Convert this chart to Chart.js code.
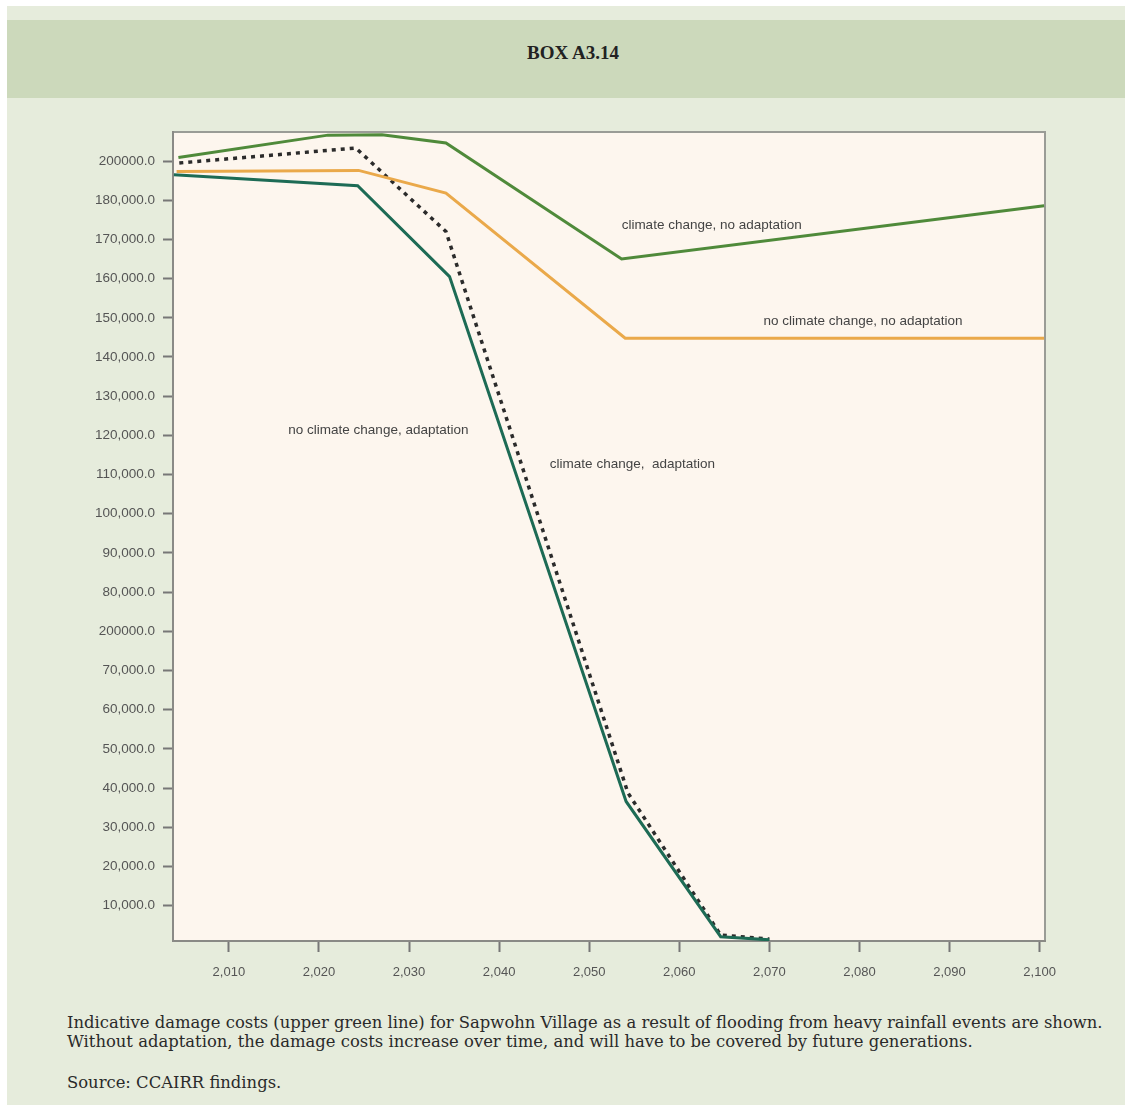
<!DOCTYPE html>
<html>
<head>
<meta charset="utf-8">
<script src="https://cdn.jsdelivr.net/npm/chart.js@4.4.0/dist/chart.umd.min.js"></script>
<style>
    html, body { margin: 0; padding: 0; background: #ffffff; }
    #page { position: relative; width: 1125px; height: 1107px; overflow: hidden; }
    #panel { position: absolute; left: 7px; top: 6px; width: 1118px; height: 1099px; background: #e6ecdc; }
    #header { position: absolute; left: 7px; top: 20px; width: 1118px; height: 78px; background: #ccd9bb; }
    #title { position: absolute; left: 14px; top: 42px; width: 1118px; text-align: center;
             font: bold 19px "Liberation Serif", serif; color: #222; }
    #statsChart { position: absolute; left: 0; top: 0; }
    .caption { position: absolute; left: 67px; font: 16.4px "DejaVu Serif", serif;
               line-height: 19px; color: #2a2a2a; white-space: nowrap; }
</style>
</head>
<body>
<div id="page">
    <div id="panel"></div>
    <div id="header"></div>
    <div id="title">BOX A3.14</div>
    <canvas id="statsChart" width="1125" height="1000"></canvas>
    <div class="caption" style="top:1013px">Indicative damage costs (upper green line) for Sapwohn Village as a result of flooding from heavy rainfall events are shown.</div>
    <div class="caption" style="top:1032px">Without adaptation, the damage costs increase over time, and will have to be covered by future generations.</div>
    <div class="caption" style="top:1073px">Source: CCAIRR findings.</div>
</div>
<script>
// values (y in axis units: each tick step = 10,000)
const greenYears = [2004.4, 2021.0, 2027.0, 2034.1, 2053.6, 2100.5];
const greenValues = [200900, 206600, 206700, 204600, 175000, 188600];

const orangeYears = [2004.2, 2024.4, 2034.1, 2054.0, 2100.5];
const orangeValues = [197300, 197600, 191800, 154800, 154800];

const tealYears = [2003.9, 2024.3, 2034.5, 2054.1, 2064.6, 2070.0];
const tealValues = [196500, 193700, 170500, 36600, 2100, 1300];

const dottedYears = [2004.5, 2024.1, 2034.1, 2054.3, 2064.6, 2070.0];
const dottedValues = [199500, 203300, 182000, 38800, 2500, 1500];

const xTickValues = [2010, 2020, 2030, 2040, 2050, 2060, 2070, 2080, 2090, 2100];
const xTickLabels = ['2,010', '2,020', '2,030', '2,040', '2,050', '2,060', '2,070', '2,080', '2,090', '2,100'];

const yTickValues = [10000, 20000, 30000, 40000, 50000, 60000, 70000, 80000, 90000, 100000,
    110000, 120000, 130000, 140000, 150000, 160000, 170000, 180000, 190000, 200000];
const yTickLabels = ['10,000.0', '20,000.0', '30,000.0', '40,000.0', '50,000.0', '60,000.0', '70,000.0',
    '200000.0', '80,000.0', '90,000.0', '100,000.0', '110,000.0', '120,000.0', '130,000.0',
    '140,000.0', '150,000.0', '160,000.0', '170,000.0', '180,000.0', '200000.0'];

const labelTexts = ['climate change, no adaptation', 'no climate change, no adaptation',
    'no climate change, adaptation', 'climate change,  adaptation'];
const labelYears = [2063.6, 2080.4, 2026.6, 2054.8];
const labelValues = [183500, 159200, 131400, 122500];

function points(xs, ys) {
    return xs.map((x, i) => ({ x: x, y: ys[i] }));
}

const plotDecor = {
    id: 'plotDecor',
    beforeDraw(chart) {
        const { ctx, chartArea: a } = chart;
        ctx.save();
        ctx.fillStyle = '#fdf6ee';
        ctx.fillRect(a.left, a.top, a.width, a.height);
        ctx.strokeStyle = '#9a9c96';
        ctx.lineWidth = 2;
        ctx.beginPath();
        ctx.moveTo(a.left, a.top);
        ctx.lineTo(a.right, a.top);
        ctx.lineTo(a.right, a.bottom);
        ctx.stroke();
        ctx.restore();
    },
    afterDatasetsDraw(chart) {
        const { ctx, scales } = chart;
        ctx.save();
        ctx.fillStyle = '#444';
        ctx.font = '13.5px "Liberation Sans", Arial, sans-serif';
        ctx.textAlign = 'center';
        ctx.textBaseline = 'middle';
        labelTexts.forEach((t, i) => {
            ctx.fillText(t, scales.x.getPixelForValue(labelYears[i]), scales.y.getPixelForValue(labelValues[i]));
        });
        ctx.restore();
    }
};

document.addEventListener('DOMContentLoaded', function() {
    const ctx = document.getElementById('statsChart').getContext('2d');

    new Chart(ctx, {
        type: 'line',
        data: {
            datasets: [
                {
                    label: 'climate change, no adaptation',
                    data: points(greenYears, greenValues),
                    borderColor: '#4f8a3a',
                    borderWidth: 3
                },
                {
                    label: 'no climate change, no adaptation',
                    data: points(orangeYears, orangeValues),
                    borderColor: '#eaa94a',
                    borderWidth: 3
                },
                {
                    label: 'no climate change, adaptation',
                    data: points(tealYears, tealValues),
                    borderColor: '#1d6b55',
                    borderWidth: 3
                },
                {
                    label: 'climate change, adaptation',
                    data: points(dottedYears, dottedValues),
                    borderColor: '#2b2b2b',
                    borderWidth: 3.5,
                    borderDash: [4, 5]
                }
            ]
        },
        options: {
            responsive: false,
            animation: false,
            devicePixelRatio: 1,
            layout: { padding: { top: 132, right: 80, left: 0, bottom: 0 } },
            elements: {
                point: { radius: 0 },
                line: { tension: 0, fill: false }
            },
            plugins: {
                legend: { display: false },
                tooltip: { enabled: false }
            },
            scales: {
                x: {
                    type: 'linear',
                    min: 2003.8,
                    max: 2100.6,
                    afterBuildTicks: s => { s.ticks = xTickValues.map(v => ({ value: v })); },
                    afterFit: s => { s.height = 59; },
                    grid: { drawOnChartArea: false, drawTicks: true, tickLength: 11, tickWidth: 2, tickColor: '#777' },
                    border: { display: true, color: '#8a8a86', width: 2 },
                    ticks: {
                        callback: v => xTickLabels[xTickValues.indexOf(v)],
                        color: '#555',
                        font: { family: 'Liberation Sans', size: 13 },
                        padding: 13,
                        maxRotation: 0
                    }
                },
                y: {
                    type: 'linear',
                    min: 1000,
                    max: 207400,
                    afterBuildTicks: s => { s.ticks = yTickValues.map(v => ({ value: v })); },
                    afterFit: s => { s.width = 173; },
                    grid: { drawOnChartArea: false, drawTicks: true, tickLength: 10, tickWidth: 2, tickColor: '#777' },
                    border: { display: true, color: '#8a8a86', width: 2 },
                    ticks: {
                        callback: v => yTickLabels[yTickValues.indexOf(v)],
                        color: '#555',
                        font: { family: 'Liberation Sans', size: 13.5 },
                        padding: 8
                    }
                }
            }
        },
        plugins: [plotDecor]
    });
});
</script>
</body>
</html>
